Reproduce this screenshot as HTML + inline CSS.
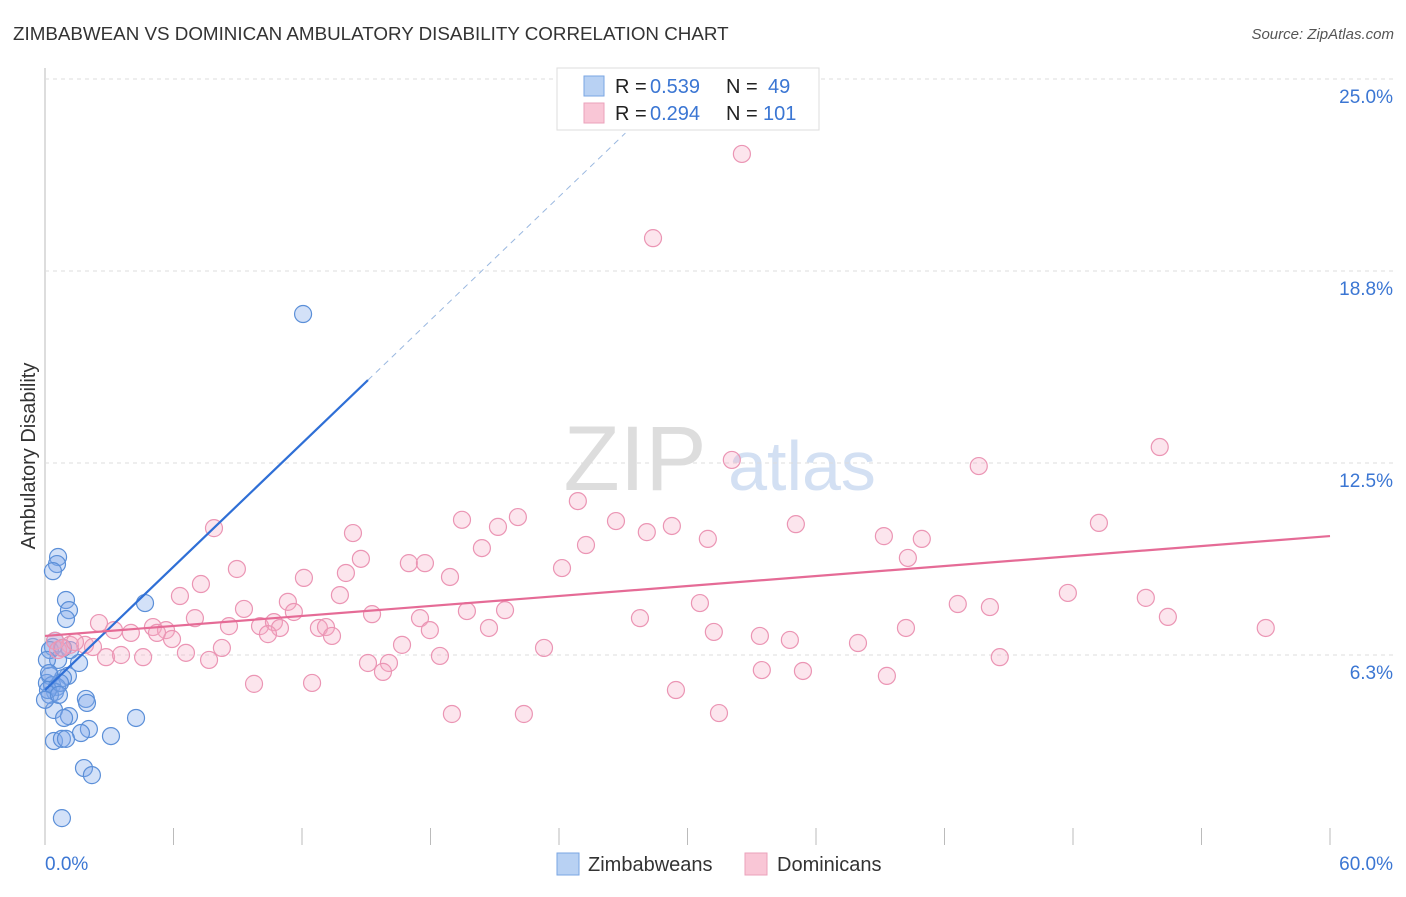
<!DOCTYPE html>
<html><head><meta charset="utf-8"><style>
body{margin:0;background:#fff;font-family:"Liberation Sans",sans-serif}
svg text{font-family:"Liberation Sans",sans-serif}
</style></head><body>
<svg id="c" width="1406" height="892">
<text x="13" y="40" font-size="18.8" fill="#333">ZIMBABWEAN VS DOMINICAN AMBULATORY DISABILITY CORRELATION CHART</text>
<text x="1394" y="39" font-size="15" fill="#555" text-anchor="end" font-style="italic">Source: ZipAtlas.com</text>
<text x="35" y="456" font-size="20" fill="#333" text-anchor="middle" transform="rotate(-90 35 456)">Ambulatory Disability</text>
<g><text x="635" y="490" font-size="92" fill="#ddd" font-family="Liberation Serif" text-anchor="middle">ZIP</text><text x="802" y="490" font-size="70" fill="#d3e0f3" text-anchor="middle">atlas</text></g>
<g id="grid"></g><g id="marks"></g>
<g>
<rect x="557" y="68" width="262" height="62" fill="#fff" stroke="#ddd"/>
<rect x="584" y="76" width="20" height="20" fill="#b8d1f3" stroke="#7aa6e3"/>
<rect x="584" y="103" width="20" height="20" fill="#f9c6d6" stroke="#eba2bb"/>
<text x="615" y="93" font-size="20" fill="#222">R =</text><text x="650" y="93" font-size="20" fill="#3b76d3">0.539</text>
<text x="726" y="93" font-size="20" fill="#222">N =</text><text x="768" y="93" font-size="20" fill="#3b76d3">49</text>
<text x="615" y="120" font-size="20" fill="#222">R =</text><text x="650" y="120" font-size="20" fill="#3b76d3">0.294</text>
<text x="726" y="120" font-size="20" fill="#222">N =</text><text x="763" y="120" font-size="20" fill="#3b76d3">101</text>
</g>
<g>
<rect x="557" y="853" width="22" height="22" fill="#b8d1f3" stroke="#7aa6e3"/><text x="588" y="871" font-size="20" fill="#333">Zimbabweans</text>
<rect x="745" y="853" width="22" height="22" fill="#f9c6d6" stroke="#eba2bb"/><text x="777" y="871" font-size="20" fill="#333">Dominicans</text>
</g>
</svg>
<script>
const yTicks=[25,18.75,12.5,6.25];
const yTickLabels=["25.0%","18.8%","12.5%","6.3%"];
const xTickLabels=["0.0%","60.0%"];
const blueX=[12.05,0.61,0.56,0.37,0.98,1.12,0.98,4.67,0.37,0.47,0.61,1.59,1.07,0.23,0.84,0.09,0.33,0.56,0.47,0.23,1.91,1.96,0.42,1.12,0.89,4.25,2.05,1.68,3.08,0.42,0.79,0.98,1.82,2.19,0.79,0.23,0.14,0.70,1.17,0.0,0.84,0.09,0.19,0.65];
const blueY=[17.35,9.44,9.21,8.98,8.04,7.71,7.42,7.94,6.51,6.71,6.09,5.99,5.57,5.57,5.50,5.34,5.27,5.21,5.05,4.95,4.82,4.69,4.46,4.26,4.20,4.20,3.84,3.71,3.61,3.45,3.52,3.52,2.57,2.34,0.94,6.41,5.11,5.34,6.41,4.79,6.48,6.09,5.66,4.95];
const pinkX=[32.54,28.39,52.05,43.60,32.07,24.88,19.47,22.08,21.15,26.66,29.27,28.10,35.06,49.21,7.89,14.38,39.17,40.94,30.95,20.40,25.26,40.29,14.75,16.99,17.74,8.96,24.14,14.05,12.09,18.91,7.28,6.30,13.77,11.34,47.76,51.40,30.58,9.29,11.62,19.70,21.48,42.62,44.12,15.27,17.51,27.78,52.43,7.00,2.52,8.59,10.04,10.69,10.97,12.79,13.12,5.04,5.65,3.22,4.01,5.23,5.93,10.41,13.40,17.97,20.73,31.23,40.20,57.00,33.38,34.78,37.96,0.47,1.17,1.87,2.24,0.61,16.67,23.30,0.79,8.26,6.58,2.85,3.55,4.58,7.66,18.44,44.58,15.08,16.06,15.78,33.47,35.39,39.31,9.76,12.47,29.46,19.00,22.36,31.47,1.40];
const pinkY=[22.56,19.82,13.02,12.40,12.60,11.26,10.65,10.74,10.42,10.61,10.45,10.25,10.51,10.55,10.38,10.22,10.12,10.03,10.03,9.73,9.83,9.41,9.38,9.24,9.24,9.05,9.08,8.92,8.76,8.79,8.56,8.17,8.20,7.98,8.27,8.11,7.94,7.75,7.65,7.68,7.71,7.91,7.81,7.58,7.45,7.45,7.49,7.45,7.29,7.19,7.19,7.32,7.13,7.13,7.16,7.16,7.06,7.06,6.97,6.97,6.77,6.93,6.87,7.06,7.13,7.00,7.13,7.13,6.87,6.74,6.64,6.71,6.58,6.58,6.51,6.41,6.58,6.48,6.48,6.48,6.32,6.18,6.25,6.18,6.09,6.22,6.18,5.99,5.99,5.70,5.76,5.73,5.57,5.31,5.34,5.11,4.33,4.33,4.36,6.67];
const blueTrend=[5.11,0.669];
const pinkTrend=[6.87,0.0542];
const NS="http://www.w3.org/2000/svg";
const X=v=>45+v/60*1285, Y=v=>847-v/25*768;
function mk(t,a,p){const e=document.createElementNS(NS,t);for(const k in a)e.setAttribute(k,a[k]);p.appendChild(e);return e;}
const g=document.getElementById('grid'),m=document.getElementById('marks');
const ax=mk('line',{x1:45,y1:68,x2:45,y2:845,stroke:'#bbb'},g);


yTicks.forEach((t,i)=>{
 const l=mk('line',{x1:45,x2:1395,y1:Y(t),y2:Y(t),stroke:'#ddd','stroke-dasharray':'4,4'},g);
 
 
 const tx=mk('text',{x:1393,y:Y(t)+24,'font-size':19,fill:'#3b76d3','text-anchor':'end'},g);tx.textContent=yTickLabels[i];
 
 
});
for(let i=0;i<=10;i++){const l=mk('line',{x1:X(i*6),x2:X(i*6),y1:828,y2:845,stroke:'#bbb'},g);
 
 }
[[0,45,'start'],[60,1393,'end']].forEach((a,i)=>{const t=mk('text',{x:a[1],y:870,'font-size':19,fill:'#3b76d3','text-anchor':a[2]},g);t.textContent=xTickLabels[i];
 
 });
blueX.forEach((x,i)=>{const c=mk('circle',{cx:X(x),cy:Y(blueY[i]),r:8.5,fill:'rgba(130,170,235,0.35)',stroke:'#5b8fd8','stroke-width':1.2},m);
 
 });
pinkX.forEach((x,i)=>{const c=mk('circle',{cx:X(x),cy:Y(pinkY[i]),r:8.5,fill:'rgba(245,170,195,0.3)',stroke:'#eb95b4','stroke-width':1.2},m);
 
 });
const bl=mk('line',{x1:X(0),y1:Y(blueTrend[0]),x2:X(15.08),y2:Y(blueTrend[0]+blueTrend[1]*15.08),stroke:'#2f6fd6','stroke-width':2.2},m);


const bd=mk('line',{x1:X(15.08),y1:Y(blueTrend[0]+blueTrend[1]*15.08),x2:X(27.1),y2:Y(blueTrend[0]+blueTrend[1]*27.1),stroke:'#9ab8e0','stroke-width':1,'stroke-dasharray':'6,5'},m);


const pl=mk('line',{x1:X(0),y1:Y(pinkTrend[0]),x2:X(60),y2:Y(pinkTrend[0]+pinkTrend[1]*60),stroke:'#e56b96','stroke-width':2.2},m);


</script>
</body></html>
